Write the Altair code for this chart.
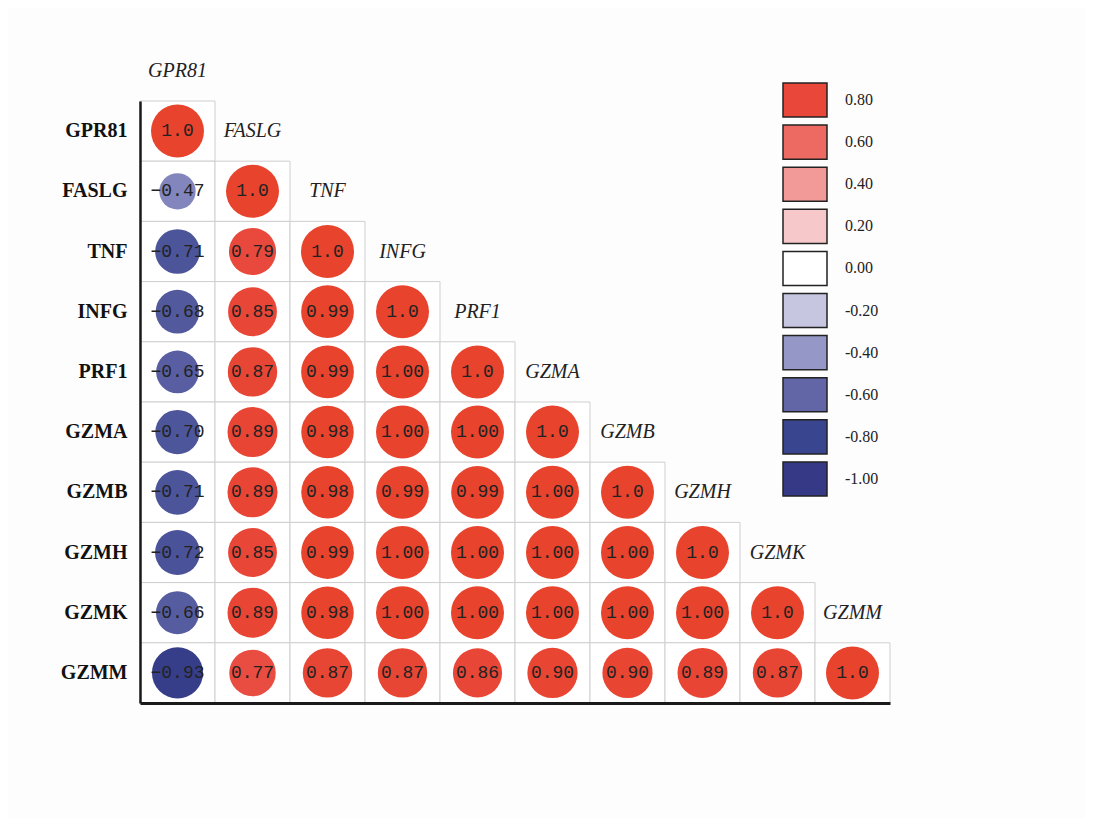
import altair as alt
import pandas as pd

genes = ["GPR81", "FASLG", "TNF", "INFG", "PRF1", "GZMA", "GZMB", "GZMH", "GZMK", "GZMM"]

# lower-triangle correlation values, row by row (row gene vs column gene)
r_GPR81 = [1.0]
r_FASLG = [-0.47, 1.0]
r_TNF = [-0.71, 0.79, 1.0]
r_INFG = [-0.68, 0.85, 0.99, 1.0]
r_PRF1 = [-0.65, 0.87, 0.99, 1.00, 1.0]
r_GZMA = [-0.70, 0.89, 0.98, 1.00, 1.00, 1.0]
r_GZMB = [-0.71, 0.89, 0.98, 0.99, 0.99, 1.00, 1.0]
r_GZMH = [-0.72, 0.85, 0.99, 1.00, 1.00, 1.00, 1.00, 1.0]
r_GZMK = [-0.66, 0.89, 0.98, 1.00, 1.00, 1.00, 1.00, 1.00, 1.0]
r_GZMM = [-0.93, 0.77, 0.87, 0.87, 0.86, 0.90, 0.90, 0.89, 0.87, 1.0]
rows = [r_GPR81, r_FASLG, r_TNF, r_INFG, r_PRF1, r_GZMA, r_GZMB, r_GZMH, r_GZMK, r_GZMM]

legend_values = [0.80, 0.60, 0.40, 0.20, 0.00, -0.20, -0.40, -0.60, -0.80, -1.00]
legend_labels = ["0.80", "0.60", "0.40", "0.20", "0.00", "-0.20", "-0.40", "-0.60", "-0.80", "-1.00"]

color_domain = [-1.0, -0.8, -0.6, -0.4, -0.2, 0.0, 0.2, 0.4, 0.6, 0.8, 1.0]
color_range = ["#363a86", "#3a458f", "#6266a7", "#9597c7", "#c6c6e1", "#ffffff",
               "#f7c8ca", "#f29a98", "#ec6a62", "#e8473a", "#e8432c"]

recs = []
for i, vals in enumerate(rows):
    for j, v in enumerate(vals):
        if i == j:
            lab = "1.0"
        else:
            lab = f"{v:.2f}".replace("-", "\u2212")
        recs.append({"row": genes[i], "col": genes[j], "v": v, "a": abs(v), "lab": lab})
df = pd.DataFrame(recs)

col_lab = pd.DataFrame({"col": genes[1:], "row": genes[:-1]})
first_lab = pd.DataFrame({"col": genes[:1], "row": genes[:1]})
leg = pd.DataFrame({"v": legend_values, "lab": legend_labels})

SERIF = "Liberation Serif"
xs = alt.Scale(domain=genes, paddingInner=0, paddingOuter=0)
ys = alt.Scale(domain=genes, paddingInner=0, paddingOuter=0)
X = alt.X("col:N", scale=xs, title=None,
          axis=alt.Axis(labels=False, ticks=False, tickSize=0, grid=False,
                        domainColor="#1a1a1a", domainWidth=3))
Y = alt.Y("row:N", scale=ys, title=None,
          axis=alt.Axis(ticks=False, tickSize=0, grid=False, labelPadding=13,
                        labelFont=SERIF, labelFontSize=20, labelFontWeight="bold",
                        labelColor="#111111", domainColor="#1a1a1a", domainWidth=2.5))
colscale = alt.Scale(domain=color_domain, range=color_range, interpolate="rgb")

cells = alt.Chart(df).mark_rect(fill="#ffffff", stroke="#cfcfcf", strokeWidth=1).encode(x=X, y=Y)
circles = alt.Chart(df).mark_circle(opacity=1).encode(
    x=X, y=Y,
    color=alt.Color("v:Q", scale=colscale, legend=None),
    size=alt.Size("a:Q", scale=alt.Scale(domain=[0, 1], range=[0, 2809]), legend=None),
)
nums = alt.Chart(df).mark_text(font="Liberation Mono", fontSize=18, color="#222222").encode(
    x=X, y=Y, text="lab:N")
clabs = alt.Chart(col_lab).mark_text(font=SERIF, fontSize=20, fontStyle="italic", color="#222222").encode(
    x=X, y=Y, text="col:N")
flab = alt.Chart(first_lab).mark_text(font=SERIF, fontSize=20, fontStyle="italic", color="#222222", dy=-60).encode(
    x=X, y=Y, text="col:N")

matrix = alt.layer(cells, circles, nums, clabs, flab)

ly = alt.Y("lab:N", title=None, axis=None,
           scale=alt.Scale(domain=legend_labels, range=[-22, 399], paddingInner=0.19, paddingOuter=0.095))
lrect = alt.Chart(leg).mark_rect(stroke="#222222", strokeWidth=1.5).encode(
    x=alt.value(643), x2=alt.value(687), y=ly,
    color=alt.Color("v:Q", scale=colscale, legend=None))
ltext = alt.Chart(leg).mark_text(font=SERIF, fontSize=16, align="left", color="#222222").encode(
    x=alt.value(705), y=ly, text="lab:N")
legend = alt.layer(lrect, ltext)

chart = alt.layer(matrix, legend).resolve_scale(y="independent").properties(
    width=750, height=602,
    autosize=alt.AutoSizeParams(type="none"),
    padding={"left": 132, "top": 93, "right": 195, "bottom": 115},
    background="#fdfdfd",
).configure_view(stroke="transparent")

chart.save("out.html", embed_options={"renderer": "svg", "actions": False})
